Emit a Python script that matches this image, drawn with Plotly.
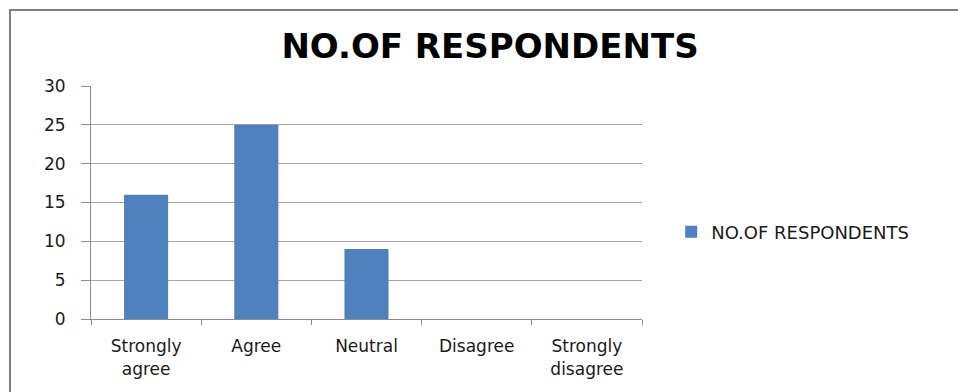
import plotly.graph_objects as go

# Survey responses
categories = ["Strongly agree", "Agree", "Neutral", "Disagree", "Strongly disagree"]
tick_labels = ["Strongly<br>agree", "Agree", "Neutral", "Disagree", "Strongly<br>disagree"]
respondents = [16, 25, 9, 0, 0]
series_name = "NO.OF RESPONDENTS"

BAR_COLOR = "#4f81bd"
GRID_COLOR = "#a6a6a6"
AXIS_COLOR = "#8c8c8c"
TEXT_COLOR = "#1a1a1a"
FONT = "DejaVu Sans"

fig = go.Figure()
fig.add_trace(go.Bar(
    x=categories,
    y=respondents,
    name=series_name,
    marker=dict(color=BAR_COLOR, line=dict(width=0)),
    showlegend=True,
    hoverinfo="skip",
))

fig.update_layout(
    width=958,
    height=392,
    margin=dict(l=91, r=316, t=86, b=73),
    paper_bgcolor="white",
    plot_bgcolor="white",
    bargap=0.6,
    font=dict(family=FONT, size=16, color=TEXT_COLOR),
    title=dict(
        text="<b>NO.OF RESPONDENTS</b>",
        x=490 / 958,
        xanchor="center",
        y=1 - 46 / 392,
        yanchor="middle",
        font=dict(family=FONT, size=34, color="#000000"),
    ),
    showlegend=True,
    legend=dict(
        x=1.053,
        y=0.373,
        xanchor="left",
        yanchor="middle",
        font=dict(family=FONT, size=18, color=TEXT_COLOR),
        itemwidth=30,
        bgcolor="rgba(0,0,0,0)",
    ),
    xaxis=dict(
        tickmode="array",
        tickvals=categories,
        ticktext=tick_labels,
        tickson="boundaries",
        ticks="outside",
        ticklen=5,
        tickcolor=AXIS_COLOR,
        showline=True,
        linecolor=AXIS_COLOR,
        linewidth=1,
        showgrid=False,
        tickfont=dict(family=FONT, size=17, color=TEXT_COLOR),
        ticklabelstandoff=12,
        fixedrange=True,
    ),
    yaxis=dict(
        range=[0, 30],
        dtick=5,
        ticks="outside",
        ticklen=9,
        tickcolor=AXIS_COLOR,
        showline=True,
        linecolor=AXIS_COLOR,
        linewidth=1,
        showgrid=True,
        gridcolor=GRID_COLOR,
        gridwidth=1,
        zeroline=False,
        tickfont=dict(family=FONT, size=17, color=TEXT_COLOR),
        ticklabelstandoff=12,
        fixedrange=True,
    ),
    shapes=[
        dict(
            type="rect",
            xref="paper", yref="paper",
            x0=(10 - 91) / 551, x1=2.0,
            y0=-1.0, y1=(319 - 10) / 233,
            line=dict(color="#7f7f7f", width=2),
            fillcolor="rgba(0,0,0,0)",
            layer="below",
        )
    ],
)

fig.write_html("out.html", config={"displayModeBar": False})
